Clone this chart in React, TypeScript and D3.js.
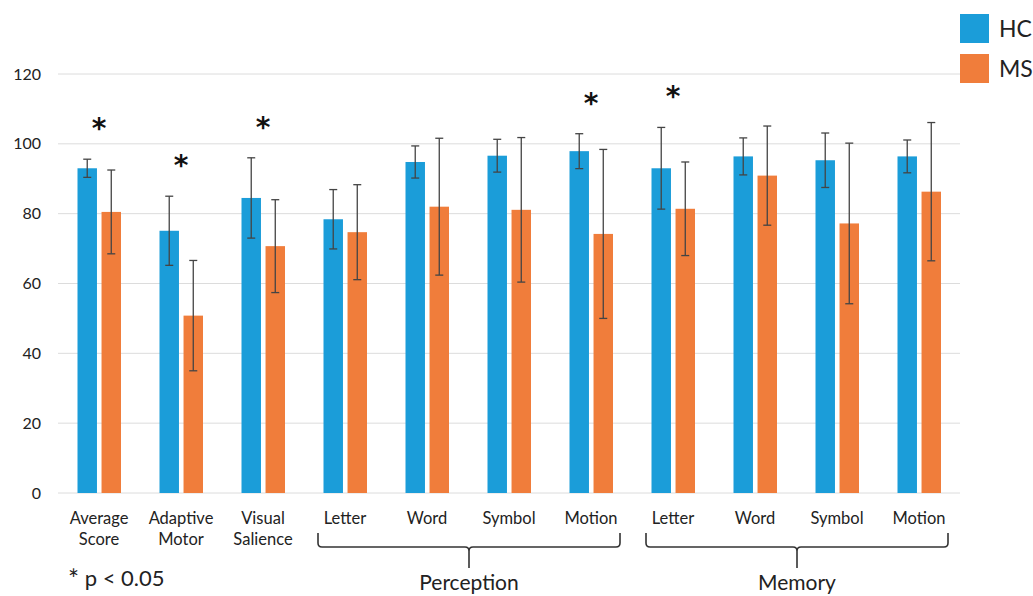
import React from "react";
import * as d3 from "d3";

const categories = [
  ["Average", "Score"],
  ["Adaptive", "Motor"],
  ["Visual", "Salience"],
  ["Letter"],
  ["Word"],
  ["Symbol"],
  ["Motion"],
  ["Letter"],
  ["Word"],
  ["Symbol"],
  ["Motion"],
];
const hcValues = [93.0, 75.1, 84.5, 78.4, 94.8, 96.6, 97.9, 93.0, 96.4, 95.3, 96.4];
const hcErrors = [2.6, 9.9, 11.5, 8.5, 4.6, 4.7, 5.0, 11.7, 5.3, 7.8, 4.7];
const msValues = [80.5, 50.8, 70.7, 74.7, 82.0, 81.1, 74.2, 81.4, 90.9, 77.2, 86.3];
const msErrors = [12.0, 15.8, 13.3, 13.6, 19.6, 20.7, 24.2, 13.4, 14.2, 23.0, 19.8];
const significant = [true, true, true, false, false, false, true, true, false, false, false];
const yTicks = [0, 20, 40, 60, 80, 100, 120];
const groups = [
  { label: "Perception", from: 3, to: 6 },
  { label: "Memory", from: 7, to: 10 },
];
const seriesNames = ["HC", "MS"];
const colors = ["#1b9dd9", "#f07d3b"];

const W = 1033;
const H = 596;
const left = 58;
const right = 960;

export default function App() {
  const idx = categories.map((_, i) => String(i));
  const x0 = d3.scaleBand().domain(idx).range([left, right]).padding(0);
  const x1 = d3.scaleBand().domain(seriesNames).range([19.5, 63]).paddingInner(0.19).paddingOuter(0);
  const y = d3.scaleLinear().domain([0, 120]).range([493, 74]);
  const series = [
    { name: "HC", values: hcValues, errors: hcErrors },
    { name: "MS", values: msValues, errors: msErrors },
  ];
  const labelFont = "Lato, 'Open Sans', sans-serif";
  const cap = 4;

  const ends = (a: number, b: number) => {
    const xa = x0(String(a))! + 14;
    const xb = x0(String(b))! + x0.bandwidth() - 12;
    return [xa, xb];
  };

  const bracketPath = (a: number, b: number) => {
    const [xa, xb] = ends(a, b);
    const cx = (xa + xb) / 2;
    const yt = 533, yl = 547, yb = 568, r = 4;
    return `M${xa},${yt} L${xa},${yl - r} Q${xa},${yl} ${xa + r},${yl} L${cx - r},${yl} Q${cx},${yl} ${cx},${yl + r} L${cx},${yb} M${cx},${yl + r} Q${cx},${yl} ${cx + r},${yl} L${xb - r},${yl} Q${xb},${yl} ${xb},${yl - r} L${xb},${yt}`;
  };

  return (
    <svg width={W} height={H} style={{ position: "absolute", left: 0, top: 0, background: "#fff" }}>
      {yTicks.map((t) => (
        <g key={t}>
          <line x1={left} x2={right} y1={y(t)} y2={y(t)} stroke="#dcdcdc" strokeWidth={1} />
          <text x={41} y={y(t)} dy="0.35em" textAnchor="end" fontFamily={labelFont} fontSize={16} fill="#222">
            {t}
          </text>
        </g>
      ))}
      {series.map((s, si) =>
        s.values.map((v, i) => {
          const bx = x0(String(i))! + x1(s.name)!;
          const cx = bx + x1.bandwidth() / 2;
          return (
            <g key={s.name + i}>
              <rect x={bx} y={y(v)} width={x1.bandwidth()} height={y(0) - y(v)} fill={colors[si]} />
              <line x1={cx} x2={cx} y1={y(v + s.errors[i])} y2={y(v - s.errors[i])} stroke="#444" strokeWidth={1.3} />
              <line x1={cx - cap} x2={cx + cap} y1={y(v + s.errors[i])} y2={y(v + s.errors[i])} stroke="#444" strokeWidth={1.3} />
              <line x1={cx - cap} x2={cx + cap} y1={y(v - s.errors[i])} y2={y(v - s.errors[i])} stroke="#444" strokeWidth={1.3} />
            </g>
          );
        })
      )}
      {significant.map((sig, i) => {
        if (!sig) return null;
        const top = Math.max(hcValues[i] + hcErrors[i], msValues[i] + msErrors[i]);
        const cx = x0(String(i))! + x0.bandwidth() / 2;
        return (
          <text key={"s" + i} x={cx} y={y(top) - 38 + 17} textAnchor="middle" fontFamily="'DejaVu Sans', sans-serif" fontWeight="bold" fontSize={28} fill="#111">
            *
          </text>
        );
      })}
      {categories.map((lines, i) => {
        const cx = x0(String(i))! + x0.bandwidth() / 2;
        return (
          <text key={"c" + i} x={cx} y={524} textAnchor="middle" fontFamily={labelFont} fontSize={16.5} fill="#222">
            {lines.map((l, k) => (
              <tspan key={k} x={cx} dy={k === 0 ? 0 : 21}>
                {l}
              </tspan>
            ))}
          </text>
        );
      })}
      {groups.map((g) => {
        const [xa, xb] = ends(g.from, g.to);
        return (
          <g key={g.label}>
            <path d={bracketPath(g.from, g.to)} fill="none" stroke="#333" strokeWidth={1.6} />
            <text x={(xa + xb) / 2} y={590} textAnchor="middle" fontFamily={labelFont} fontSize={21} fill="#222">
              {g.label}
            </text>
          </g>
        );
      })}
      <text x={68} y={586} fontFamily={labelFont} fontSize={22} fill="#222">
        <tspan fontSize={26} dy={3}>*</tspan>
        <tspan dy={-3}> p &lt; 0.05</tspan>
      </text>
      {seriesNames.map((n, i) => (
        <g key={n}>
          <rect x={960} y={14 + i * 40} width={29} height={29} fill={colors[i]} />
          <text x={999} y={28.5 + i * 40} dy="0.35em" fontFamily={labelFont} fontSize={23} fill="#222">
            {n}
          </text>
        </g>
      ))}
    </svg>
  );
}
